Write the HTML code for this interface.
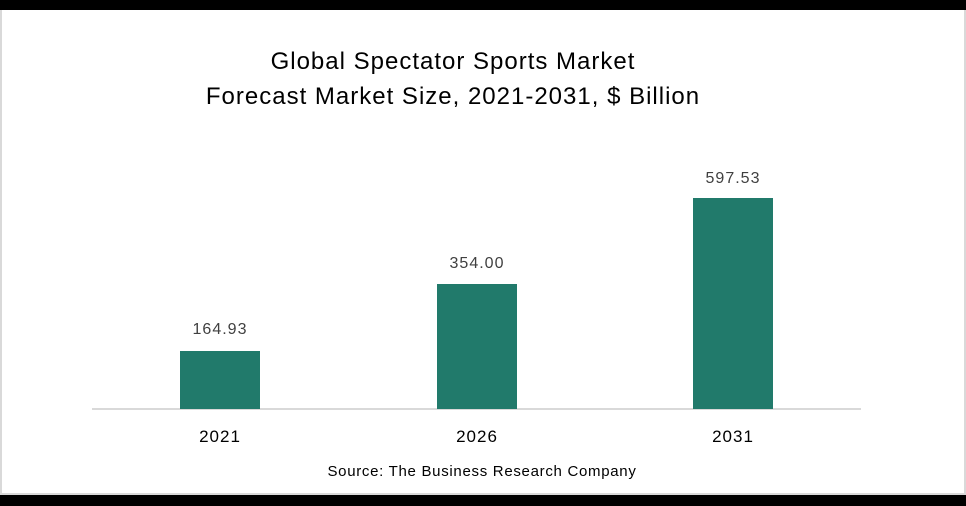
<!DOCTYPE html>
<html><head><style>
body{margin:0;width:966px;height:506px;background:#000;position:relative;overflow:hidden;font-family:"Liberation Sans",sans-serif}
.p{position:absolute;left:0;top:10px;width:966px;height:485px;background:#fff;box-sizing:border-box;border-left:2px solid #d9d9d9;border-right:2px solid #d9d9d9;border-bottom:2px solid #d9d9d9}
.t{position:absolute;white-space:nowrap;transform:translateX(-50%);color:#000}
.bar{position:absolute;background:#217a6b;width:80px}
.v{color:#404040;font-size:16px;letter-spacing:1px}
.y{font-size:17px;letter-spacing:1px}
</style></head><body>
<div class="p"></div>
<div class="t" style="left:453px;top:48px;font-size:24px;letter-spacing:1px">Global Spectator Sports Market</div>
<div class="t" style="left:453px;top:83px;font-size:24px;letter-spacing:1px">Forecast Market Size, 2021-2031, $ Billion</div>
<div style="position:absolute;left:92px;top:408px;width:769px;height:2px;background:#d9d9d9"></div>
<div class="bar" style="left:180px;top:351px;height:58px"></div>
<div class="bar" style="left:437px;top:284px;height:125px"></div>
<div class="bar" style="left:693px;top:198px;height:211px"></div>
<div class="t v" style="left:220px;top:321px">164.93</div>
<div class="t v" style="left:477px;top:255px">354.00</div>
<div class="t v" style="left:733px;top:170px">597.53</div>
<div class="t y" style="left:220px;top:427px">2021</div>
<div class="t y" style="left:477px;top:427px">2026</div>
<div class="t y" style="left:733px;top:427px">2031</div>
<div class="t" style="left:482px;top:463px;font-size:15px;letter-spacing:0.7px">Source: The Business Research Company</div>
</body></html>
